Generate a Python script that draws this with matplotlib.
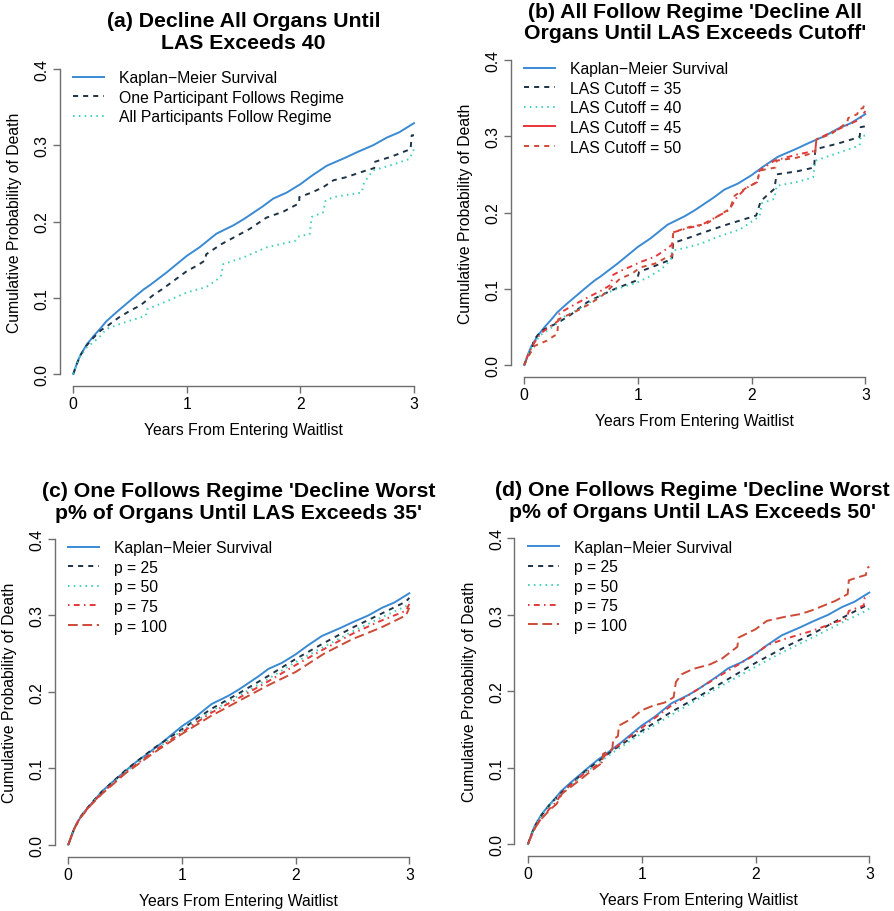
import matplotlib
matplotlib.use('Agg')
import matplotlib.pyplot as plt
from matplotlib.lines import Line2D

plt.rcParams['font.family'] = ['Liberation Sans', 'DejaVu Sans']

# ---------------- data ----------------
# Kaplan-Meier curve, shared by all four panels
km_t = [0, 0.03, 0.06, 0.12, 0.18, 0.24, 0.29, 0.38, 0.53, 0.62, 0.67, 0.82, 1.0, 1.11, 1.26,
        1.41, 1.5, 1.67, 1.76, 1.88, 2.0, 2.1, 2.23, 2.4, 2.5, 2.64, 2.76, 2.87, 3.0]
km_p = [0, 0.013, 0.024, 0.039, 0.05, 0.06, 0.069, 0.081, 0.1, 0.111, 0.116, 0.133, 0.155, 0.166, 0.184,
        0.195, 0.203, 0.22, 0.23, 0.238, 0.249, 0.26, 0.273, 0.284, 0.291, 0.3, 0.31, 0.317, 0.329]

# (a) decline all organs until LAS exceeds 40
a_one_t = [0, 0.03, 0.06, 0.12, 0.18, 0.24, 0.3, 0.4, 0.5, 0.59, 0.7, 0.8, 0.9, 1.0, 1.1, 1.16, 1.17,
           1.3, 1.4, 1.55, 1.7, 1.85, 1.99, 1.99, 2.1, 2.2, 2.29, 2.4, 2.58, 2.65, 2.65, 2.8, 2.97, 2.98, 3.0]
a_one_p = [0, 0.013, 0.024, 0.038, 0.048, 0.057, 0.063, 0.074, 0.083, 0.09, 0.103, 0.113, 0.124, 0.135,
           0.143, 0.149, 0.157, 0.17, 0.178, 0.19, 0.205, 0.213, 0.224, 0.232, 0.238, 0.245, 0.254, 0.258,
           0.267, 0.27, 0.278, 0.285, 0.295, 0.313, 0.313]
a_all_t = [0, 0.03, 0.06, 0.12, 0.18, 0.24, 0.29, 0.4, 0.5, 0.59, 0.64, 0.65, 0.8, 1.0, 1.17, 1.25, 1.3,
           1.32, 1.5, 1.7, 1.96, 1.99, 2.08, 2.1, 2.2, 2.22, 2.29, 2.54, 2.56, 2.64, 2.8, 2.96, 3.0]
a_all_p = [0, 0.013, 0.023, 0.035, 0.042, 0.05, 0.059, 0.065, 0.07, 0.074, 0.077, 0.085, 0.094, 0.107,
           0.114, 0.122, 0.128, 0.144, 0.153, 0.166, 0.175, 0.181, 0.183, 0.206, 0.212, 0.227, 0.232,
           0.238, 0.251, 0.267, 0.274, 0.282, 0.295]

# (b) everyone follows the regime, by LAS cutoff
b35_t = [0, 0.03, 0.07, 0.08, 0.15, 0.29, 0.4, 0.55, 0.67, 0.8, 0.99, 1.01, 1.15, 1.3, 1.31, 1.45, 1.6,
         1.8, 2.04, 2.08, 2.2, 2.22, 2.4, 2.55, 2.56, 2.75, 2.95, 2.96, 3.0]
b35_p = [0, 0.012, 0.02, 0.032, 0.045, 0.055, 0.065, 0.082, 0.091, 0.1, 0.111, 0.122, 0.13, 0.139, 0.16,
         0.167, 0.175, 0.185, 0.196, 0.215, 0.231, 0.25, 0.254, 0.259, 0.283, 0.29, 0.299, 0.312, 0.313]
b40_t = [0, 0.03, 0.08, 0.15, 0.25, 0.34, 0.5, 0.67, 0.8, 0.99, 1.1, 1.2, 1.29, 1.3, 1.4, 1.55, 1.7, 1.9,
         2.07, 2.09, 2.2, 2.22, 2.4, 2.54, 2.56, 2.7, 2.95, 2.96, 3.0]
b40_p = [0, 0.012, 0.028, 0.04, 0.05, 0.0625, 0.075, 0.091, 0.099, 0.108, 0.116, 0.125, 0.138, 0.15,
         0.153, 0.159, 0.168, 0.178, 0.195, 0.212, 0.218, 0.235, 0.24, 0.246, 0.268, 0.275, 0.288, 0.3, 0.301]
b45_t = [0, 0.03, 0.07, 0.14, 0.22, 0.3, 0.31, 0.45, 0.55, 0.67, 0.76, 0.78, 0.84, 0.95, 1.02, 1.15, 1.25,
         1.3, 1.31, 1.45, 1.55, 1.7, 1.8, 1.87, 1.95, 2.05, 2.07, 2.2, 2.4, 2.56, 2.57, 2.7, 2.85, 2.95, 3.0]
b45_p = [0, 0.012, 0.025, 0.041, 0.05, 0.058, 0.068, 0.08, 0.088, 0.097, 0.105, 0.118, 0.123, 0.13,
         0.135, 0.142, 0.152, 0.158, 0.174, 0.18, 0.183, 0.195, 0.203, 0.22, 0.232, 0.24, 0.255, 0.268,
         0.276, 0.281, 0.296, 0.305, 0.315, 0.322, 0.333]
b50_t = [0, 0.03, 0.09, 0.2, 0.26, 0.29, 0.3, 0.45, 0.55, 0.67, 0.75, 0.84, 0.95, 1.02, 1.15, 1.25, 1.3,
         1.31, 1.45, 1.6, 1.7, 1.81, 1.85, 1.95, 2.05, 2.07, 2.21, 2.22, 2.4, 2.56, 2.57, 2.7, 2.84, 2.85,
         2.93, 2.94, 2.98, 3.0]
b50_p = [0, 0.01, 0.025, 0.032, 0.038, 0.04, 0.06, 0.07, 0.078, 0.089, 0.1, 0.113, 0.12, 0.128, 0.133,
         0.141, 0.143, 0.174, 0.181, 0.185, 0.195, 0.205, 0.222, 0.232, 0.24, 0.255, 0.259, 0.268, 0.272,
         0.279, 0.296, 0.303, 0.318, 0.324, 0.329, 0.335, 0.337, 0.345]

# (c) / (d) one participant declines worst p% of organs
p_t = [0, 0.05, 0.1, 0.2, 0.3, 0.5, 0.75, 1.0, 1.25, 1.5, 1.75, 2.0, 2.25, 2.5, 2.75, 2.97, 3.0]
c25_p = [0, 0.02, 0.035, 0.054, 0.07, 0.097, 0.126, 0.151, 0.177, 0.198, 0.22, 0.243, 0.264, 0.284, 0.302, 0.318, 0.323]
c50_p = [0, 0.02, 0.035, 0.053, 0.069, 0.095, 0.123, 0.149, 0.174, 0.195, 0.216, 0.239, 0.259, 0.279, 0.297, 0.312, 0.318]
c75_p = [0, 0.02, 0.035, 0.053, 0.068, 0.094, 0.122, 0.147, 0.172, 0.192, 0.213, 0.235, 0.256, 0.276, 0.293, 0.306, 0.315]
c100_p = [0, 0.02, 0.034, 0.052, 0.067, 0.093, 0.12, 0.145, 0.168, 0.188, 0.208, 0.226, 0.25, 0.269, 0.284, 0.3, 0.31]

d25_p = [0, 0.02, 0.034, 0.053, 0.068, 0.095, 0.123, 0.148, 0.172, 0.193, 0.215, 0.237, 0.257, 0.275, 0.295, 0.312, 0.315]
d50_p = [0, 0.02, 0.034, 0.052, 0.067, 0.093, 0.12, 0.145, 0.168, 0.19, 0.211, 0.232, 0.252, 0.27, 0.289, 0.305, 0.308]
d75_t = [0, 0.05, 0.1, 0.2, 0.25, 0.3, 0.5, 0.65, 0.67, 0.75, 1.0, 1.25, 1.5, 1.75, 2.0, 2.1, 2.25, 2.5,
         2.7, 2.8, 2.82, 2.95, 2.96, 3.0]
d75_p = [0, 0.018, 0.03, 0.048, 0.055, 0.068, 0.093, 0.107, 0.115, 0.124, 0.152, 0.18, 0.203, 0.226,
         0.248, 0.26, 0.268, 0.279, 0.29, 0.295, 0.305, 0.312, 0.322, 0.324]
d100_t = [0, 0.05, 0.1, 0.2, 0.25, 0.3, 0.45, 0.55, 0.65, 0.66, 0.74, 0.75, 0.79, 0.8, 0.9, 1.0, 1.1, 1.2,
          1.28, 1.3, 1.35, 1.45, 1.6, 1.7, 1.84, 1.85, 2.0, 2.1, 2.25, 2.4, 2.5, 2.6, 2.7, 2.81, 2.82, 2.9,
          2.97, 2.98, 3.0]
d100_p = [0, 0.018, 0.03, 0.046, 0.052, 0.066, 0.083, 0.095, 0.106, 0.118, 0.124, 0.137, 0.141, 0.155,
          0.163, 0.175, 0.181, 0.185, 0.192, 0.212, 0.222, 0.229, 0.235, 0.242, 0.258, 0.27, 0.281, 0.292,
          0.297, 0.301, 0.306, 0.312, 0.318, 0.327, 0.345, 0.349, 0.352, 0.361, 0.363]

titles = ["(a) Decline All Organs Until\nLAS Exceeds 40",
          "(b) All Follow Regime 'Decline All\nOrgans Until LAS Exceeds Cutoff'",
          "(c) One Follows Regime 'Decline Worst\np% of Organs Until LAS Exceeds 35'",
          "(d) One Follows Regime 'Decline Worst\np% of Organs Until LAS Exceeds 50'"]
km_label = "Kaplan\u2212Meier Survival"
a_labels = [km_label, "One Participant Follows Regime", "All Participants Follow Regime"]
b_labels = [km_label, "LAS Cutoff = 35", "LAS Cutoff = 40", "LAS Cutoff = 45", "LAS Cutoff = 50"]
p_labels = [km_label, "p = 25", "p = 50", "p = 75", "p = 100"]
yticks = [0.0, 0.1, 0.2, 0.3, 0.4]
ytick_labels = ["0.0", "0.1", "0.2", "0.3", "0.4"]
xticks = [0, 1, 2, 3]

# ---------------- styles ----------------
LW = 1.4
KM = dict(color='#3a8ad3', lw=LW, ls='-')
NAVY = dict(color='#1d3347', lw=LW, ls=(0, (2.6, 2.6)))
TEAL = dict(color='#3fcfb8', lw=LW, ls=(0, (0.8, 2.2)))
RED = dict(color='#e8363a', lw=LW, ls='-')
RED_DD = dict(color='#e8363a', lw=LW, ls=(0, (0.8, 2.2, 3.0, 2.2)))
BRICK_D = dict(color='#cc4a36', lw=LW, ls=(0, (2.6, 2.6)))
BRICK_LD = dict(color='#cc4a36', lw=LW, ls=(0, (5.0, 2.4)))

AXCOL = '#6e6e6e'
FS = 11.3
W, H = 894, 912

fig = plt.figure(figsize=(W / 100, H / 100), dpi=100)


def make_axes(x0, x3, y0, y4):
    # R style: the data range is padded by 4% on each side
    sx = (x3 - x0) / 3.0
    sy = (y0 - y4) / 0.4
    left, right = x0 - 0.12 * sx, x3 + 0.12 * sx
    top, bottom = y4 - 0.016 * sy, y0 + 0.016 * sy
    ax = fig.add_axes([left / W, 1 - bottom / H, (right - left) / W, (bottom - top) / H])
    ax.set_xlim(-0.12, 3.12)
    ax.set_ylim(-0.016, 0.416)
    for s in ['top', 'right']:
        ax.spines[s].set_visible(False)
    ax.spines['left'].set_bounds(0, 0.4)
    ax.spines['bottom'].set_bounds(0, 3)
    for s in ['left', 'bottom']:
        ax.spines[s].set_color(AXCOL)
        ax.spines[s].set_linewidth(1.0)
    ax.set_xticks(xticks)
    ax.set_xticklabels([str(v) for v in xticks])
    ax.set_yticks(yticks)
    ax.set_yticklabels(ytick_labels, rotation=90, va='center')
    ax.tick_params(length=5, width=1.0, color=AXCOL, labelsize=FS)
    ax.tick_params(axis='x', pad=2)
    ax.tick_params(axis='y', pad=2.5)
    h = bottom - top
    ax.set_xlabel("Years From Entering Waitlist", fontsize=FS)
    ax.xaxis.label.set_va('center')
    ax.xaxis.set_label_coords(0.5, -43.5 / h)
    ax.set_ylabel("Cumulative Probability of Death", fontsize=FS)
    ax.yaxis.label.set_va('center')
    ax.yaxis.set_label_coords(-0.122, 0.5)
    return ax, (left + right) / 2, top


def add_title(cx, cy, text):
    fig.text(cx / W, 1 - cy / H, text, ha='center', va='center', fontsize=15.3,
             fontweight='bold', linespacing=1.17)


def add_legend(ax, styles, labels):
    handles = [Line2D([], [], **st) for st in styles]
    ax.legend(handles, labels, loc='upper left', bbox_to_anchor=(0.036, 0.959), frameon=False,
              fontsize=FS, handlelength=2.0, handletextpad=0.95, labelspacing=0.29,
              borderpad=0, borderaxespad=0)


# (a)
ax, cx, top = make_axes(73.3, 414.0, 375.0, 70.0)
ax.plot(km_t, km_p, **KM)
ax.plot(a_one_t, a_one_p, **NAVY)
ax.plot(a_all_t, a_all_p, **TEAL)
add_legend(ax, [KM, NAVY, TEAL], a_labels)
add_title(cx, 32.5, titles[0])

# (b)
ax, cx, top = make_axes(524.3, 865.3, 366.0, 61.0)
ax.plot(km_t, km_p, **KM)
ax.plot(b35_t, b35_p, **NAVY)
ax.plot(b40_t, b40_p, **TEAL)
ax.plot(b45_t, b45_p, **RED_DD)
ax.plot(b50_t, b50_p, **BRICK_D)
add_legend(ax, [KM, NAVY, TEAL, RED, BRICK_D], b_labels)
add_title(cx, 23.0, titles[1])

# (c)
ax, cx, top = make_axes(68.3, 409.3, 845.7, 540.0)
ax.plot(km_t, km_p, **KM)
ax.plot(p_t, c25_p, **NAVY)
ax.plot(p_t, c50_p, **TEAL)
ax.plot(p_t, c75_p, **RED_DD)
ax.plot(p_t, c100_p, **BRICK_LD)
add_legend(ax, [KM, NAVY, TEAL, RED_DD, BRICK_LD], p_labels)
add_title(cx, 502.7, titles[2])

# (d)
ax, cx, top = make_axes(528.0, 869.3, 845.0, 539.3)
ax.plot(km_t, km_p, **KM)
ax.plot(p_t, d25_p, **NAVY)
ax.plot(p_t, d50_p, **TEAL)
ax.plot(d75_t, d75_p, **RED_DD)
ax.plot(d100_t, d100_p, **BRICK_LD)
add_legend(ax, [KM, NAVY, TEAL, RED_DD, BRICK_LD], p_labels)
# the long title sits against the right edge of the figure; nudge it left so it fits
add_title(cx - 6, 501.7, titles[3])

fig.savefig('out.png', dpi=100)
